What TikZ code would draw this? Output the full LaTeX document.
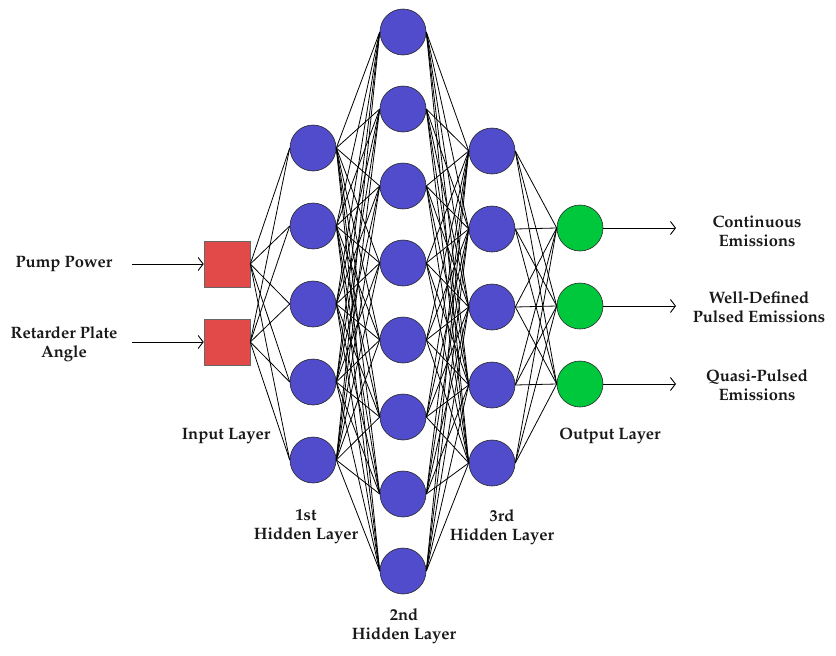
\documentclass[tikz,border=0pt]{standalone}
\usepackage[T1]{fontenc}
\usepackage{mathpazo}
\usetikzlibrary{arrows.meta}
\definecolor{nblue}{RGB}{80,76,204}
\definecolor{nred}{RGB}{226,74,74}
\definecolor{ngreen}{RGB}{0,200,60}
\tikzset{
  neuron/.style={circle, draw=black!85, fill=nblue, minimum size=46pt, inner sep=0pt, line width=0.6pt},
  outneuron/.style={neuron, fill=ngreen},
  inbox/.style={rectangle, draw=black!60, fill=nred, minimum size=46pt, inner sep=0pt, line width=0.6pt},
  edge/.style={draw=black, line width=0.8pt},
  arr/.style={draw=black, line width=0.9pt, -{Straight Barb[length=5pt,width=13pt]}},
  lbl/.style={align=center, font=\fontsize{16.5}{19}\selectfont\bfseries, text=black!90, inner sep=0pt}
}
\begin{document}
\begin{tikzpicture}[x=1pt,y=-1pt]
\useasboundingbox (0,0) rectangle (836,656);
% input
\node[inbox] (in-1) at (227,264) {};
\node[inbox] (in-2) at (227,342) {};
% hidden layers
\foreach \i in {1,...,5} \node[neuron] (h1-\i) at (313,{148+78*(\i-1)}) {};
\foreach \i in {1,...,8} \node[neuron] (h2-\i) at (403,{32+77*(\i-1)}) {};
\foreach \i in {1,...,5} \node[neuron] (h3-\i) at (492,{151+78*(\i-1)}) {};
\foreach \i in {1,...,3} \node[outneuron] (out-\i) at (580,{228+78*(\i-1)}) {};
% edges
\foreach \a in {1,2} \foreach \b in {1,...,5} \draw[edge] (in-\a.east) -- (h1-\b.west);
\foreach \a in {1,...,5} \foreach \b in {1,...,8} \draw[edge] (h1-\a.east) -- (h2-\b.west);
\foreach \a in {1,...,8} \foreach \b in {1,...,5} \draw[edge] (h2-\a.east) -- (h3-\b.west);
\foreach \a in {1,...,5} \foreach \b in {1,...,3} \draw[edge] (h3-\a.east) -- (out-\b.west);
% input labels and arrows
\node[lbl] (pp) at (64,264) {Pump Power};
\node[lbl] (rp) at (64,344) {Retarder Plate\\Angle};
\coordinate (ppa) at (132,264);
\coordinate (rpa) at (132,342);
\draw[arr] (ppa) -- (in-1.west);
\draw[arr] (rpa) -- (in-2.west);
% output arrows and labels
\coordinate (oa1) at (676,228);
\coordinate (oa2) at (676,306);
\coordinate (oa3) at (676,384);
\draw[arr] (out-1.east) -- (oa1);
\draw[arr] (out-2.east) -- (oa2);
\draw[arr] (out-3.east) -- (oa3);
\node[lbl] (t1) at (757,231) {Continuous\\Emissions};
\node[lbl] (t2) at (759,307) {Well-Defined\\Pulsed Emissions};
\node[lbl] (t3) at (757,385) {Quasi-Pulsed\\Emissions};
% layer labels
\node[lbl] (l0) at (226,436) {Input Layer};
\node[lbl] (l1) at (306,527) {1st\\Hidden Layer};
\node[lbl] (l2) at (404,626) {2nd\\Hidden Layer};
\node[lbl] (l3) at (502,527) {3rd\\Hidden Layer};
\node[lbl] (l4) at (610,436) {Output Layer};
\end{tikzpicture}
\end{document}
